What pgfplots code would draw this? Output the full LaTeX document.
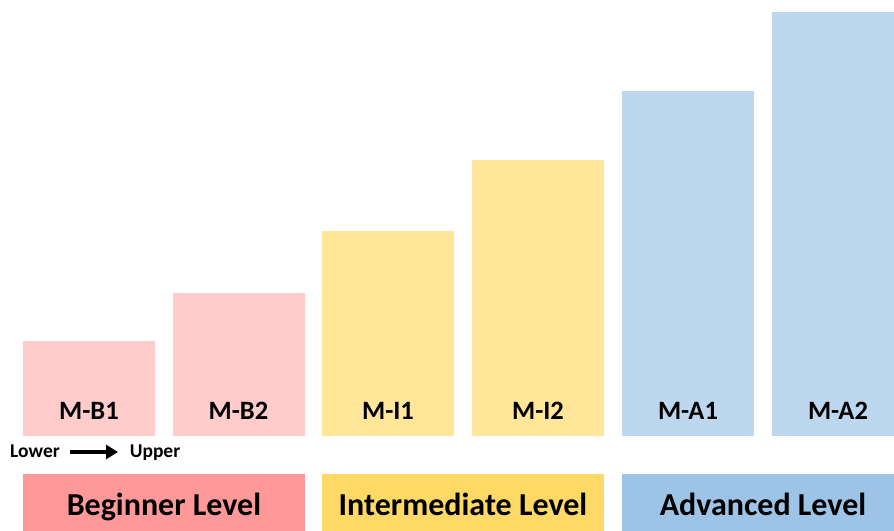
\documentclass[border=0pt]{standalone}
\usepackage{pgfplots}
\pgfplotsset{compat=1.18}
\usepackage{fontspec}
\setmainfont{Carlito}
\usetikzlibrary{arrows.meta}
\definecolor{barB}{HTML}{FFCCCC}
\definecolor{barI}{HTML}{FFE699}
\definecolor{barA}{HTML}{BDD7EE}
\definecolor{bandB}{HTML}{FF9999}
\definecolor{bandI}{HTML}{FFD966}
\definecolor{bandA}{HTML}{9DC3E6}
\begin{document}
\begin{tikzpicture}
\begin{axis}[
  scale only axis, width=894pt, height=530pt,
  xmin=0, xmax=894, ymin=-94, ymax=436,
  hide axis, clip mode=individual,
  every node/.style={font=\bfseries},
]
\path (axis cs:0,-94) rectangle (axis cs:894,436);
% bars
\addplot[ybar, bar width=132, bar shift=0pt, fill=barB, draw=none] coordinates {(89,95)};
\addplot[ybar, bar width=132, bar shift=0pt, fill=barB, draw=none] coordinates {(238.5,143)};
\addplot[ybar, bar width=132, bar shift=0pt, fill=barI, draw=none] coordinates {(388,205)};
\addplot[ybar, bar width=132, bar shift=0pt, fill=barI, draw=none] coordinates {(538,276)};
\addplot[ybar, bar width=132, bar shift=0pt, fill=barA, draw=none] coordinates {(688,345)};
\addplot[ybar, bar width=132, bar shift=0pt, fill=barA, draw=none] coordinates {(838,424)};
% level bands
\addplot[fill=bandB, draw=none] coordinates {(23,-38) (305,-38) (305,-100) (23,-100)} -- cycle;
\addplot[fill=bandI, draw=none] coordinates {(322,-38) (604,-38) (604,-100) (322,-100)} -- cycle;
\addplot[fill=bandA, draw=none] coordinates {(622,-38) (904,-38) (904,-100) (622,-100)} -- cycle;
% bar labels
\node[anchor=base, font=\fontsize{26.5}{30}\selectfont\bfseries] at (axis cs:89,16) {M-B1};
\node[anchor=base, font=\fontsize{26.5}{30}\selectfont\bfseries] at (axis cs:238.5,16) {M-B2};
\node[anchor=base, font=\fontsize{26.5}{30}\selectfont\bfseries] at (axis cs:388,16) {M-I1};
\node[anchor=base, font=\fontsize{26.5}{30}\selectfont\bfseries] at (axis cs:538,16) {M-I2};
\node[anchor=base, font=\fontsize{26.5}{30}\selectfont\bfseries] at (axis cs:688,16) {M-A1};
\node[anchor=base, font=\fontsize{26.5}{30}\selectfont\bfseries] at (axis cs:838,16) {M-A2};
% band labels
\node[anchor=base, font=\fontsize{32}{38}\selectfont\bfseries] at (axis cs:164,-79) {Beginner Level};
\node[anchor=base, font=\fontsize{32}{38}\selectfont\bfseries] at (axis cs:463,-79) {Intermediate Level};
\node[anchor=base, font=\fontsize{32}{38}\selectfont\bfseries] at (axis cs:763,-79) {Advanced Level};
% lower -> upper
\node[anchor=base, font=\fontsize{19.5}{23}\selectfont\bfseries] at (axis cs:35,-22) {Lower};
\node[anchor=base, font=\fontsize{19.5}{23}\selectfont\bfseries] at (axis cs:155,-22) {Upper};
\draw[line width=4.5pt, -{Triangle[length=12pt,width=14pt]}] (axis cs:70,-16) -- (axis cs:118,-16);
\end{axis}
\end{tikzpicture}
\end{document}
